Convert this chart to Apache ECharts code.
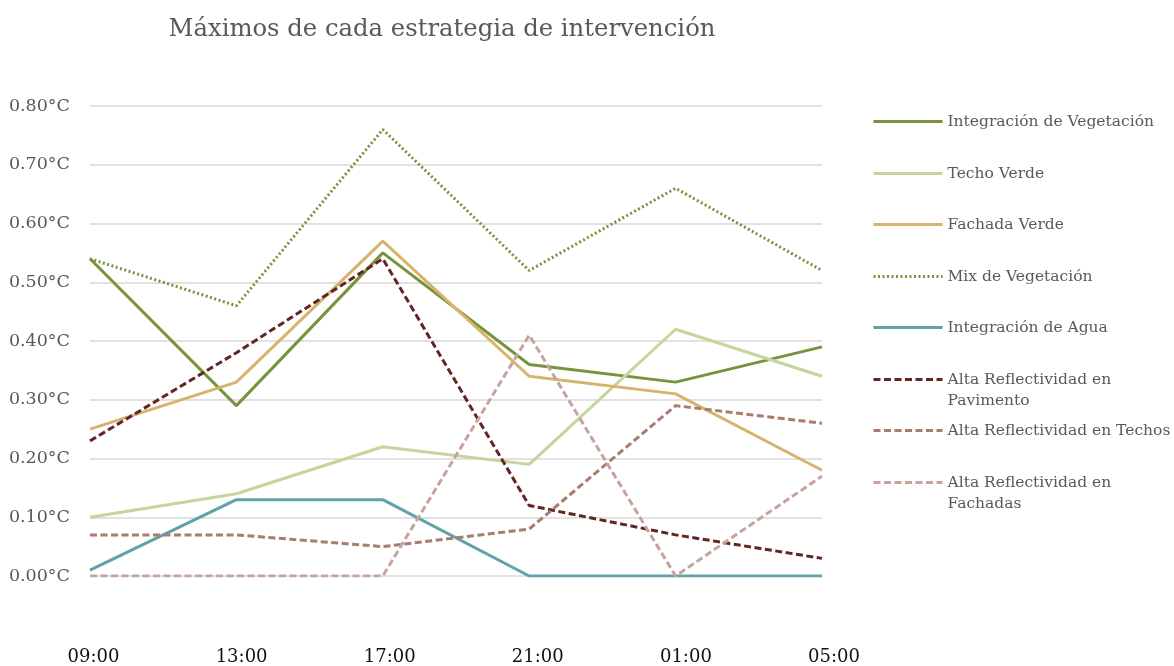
<!DOCTYPE html>
<html>
<head>
<meta charset="utf-8">
<script src="https://cdn.jsdelivr.net/npm/echarts@6/dist/echarts.min.js"></script>
<style>
  html, body { margin: 0; padding: 0; background: #fff; }
  #chart { width: 1174px; height: 666px; }
</style>
</head>
<body>
<div id="chart"></div>
<script>
// Time of day for each measurement
const hours = ['09:00', '13:00', '17:00', '21:00', '01:00', '05:00'];

// Peak temperature reduction (°C) per intervention strategy
const integracionVegetacion = [0.54, 0.29, 0.55, 0.36, 0.33, 0.39];
const techoVerde = [0.10, 0.14, 0.22, 0.19, 0.42, 0.34];
const fachadaVerde = [0.25, 0.33, 0.57, 0.34, 0.31, 0.18];
const mixVegetacion = [0.54, 0.46, 0.76, 0.52, 0.66, 0.52];
const integracionAgua = [0.01, 0.13, 0.13, 0.00, 0.00, 0.00];
const reflectPavimento = [0.23, 0.38, 0.54, 0.12, 0.07, 0.03];
const reflectTechos = [0.07, 0.07, 0.05, 0.08, 0.29, 0.26];
const reflectFachadas = [0.00, 0.00, 0.00, 0.41, 0.00, 0.17];

const FONT = 'DejaVu Serif';
const TEXT = '#595959';

const seriesDefs = [
  { name: 'Integración de Vegetación', data: integracionVegetacion, color: '#77933C', type: 'solid' },
  { name: 'Techo Verde', data: techoVerde, color: '#C3D69B', type: 'solid' },
  { name: 'Fachada Verde', data: fachadaVerde, color: '#D6B46E', type: 'solid' },
  { name: 'Mix de Vegetación', data: mixVegetacion, color: '#77933C', type: [2, 2.5] },
  { name: 'Integración de Agua', data: integracionAgua, color: '#5FA3A9', type: 'solid' },
  { name: 'Alta Reflectividad en Pavimento', data: reflectPavimento, color: '#632523', type: [7, 3.5] },
  { name: 'Alta Reflectividad en Techos', data: reflectTechos, color: '#A67D6E', type: [7, 3.5] },
  { name: 'Alta Reflectividad en Fachadas', data: reflectFachadas, color: '#C6A49D', type: [7, 3.5] }
];

// Legend rows: vertical centre of each icon, and wrapped label text
const legendRows = [
  { y: 121, label: 'Integración de Vegetación' },
  { y: 173, label: 'Techo Verde' },
  { y: 224, label: 'Fachada Verde' },
  { y: 276, label: 'Mix de Vegetación' },
  { y: 327, label: 'Integración de Agua' },
  { y: 379, label: '\nAlta Reflectividad en\nPavimento' },
  { y: 430, label: 'Alta Reflectividad en Techos' },
  { y: 482, label: '\nAlta Reflectividad en\nFachadas' }
];
const LH = 21;

const legends = seriesDefs.map((s, i) => {
  const row = legendRows[i];
  const lines = row.label.split('\n').length;
  return {
    left: 872,
    top: Math.round(row.y - (lines * LH) / 2),
    orient: 'vertical',
    itemWidth: 69,
    itemHeight: 14,
    itemGap: 0,
    padding: 0,
    data: [s.name],
    formatter: () => row.label,
    itemStyle: { opacity: 0 },
    lineStyle: { width: 3 },
    textStyle: { fontFamily: FONT, fontSize: 15.5, color: TEXT, lineHeight: LH }
  };
});

const chart = echarts.init(document.getElementById('chart'), null, { renderer: 'canvas' });

chart.setOption({
  backgroundColor: '#ffffff',
  animation: false,
  title: {
    text: 'Máximos de cada estrategia de intervención',
    left: 437,
    textAlign: 'center',
    top: 13,
    textStyle: { fontFamily: FONT, fontSize: 24.3, fontWeight: 'normal', color: TEXT }
  },
  legend: legends,
  grid: [
    { left: 90, right: 352, top: 106, bottom: 90, containLabel: false },
    // label band for the hour captions, spaced slightly wider than the plot
    { left: 93.5, right: 340, top: 106, bottom: 90, containLabel: false }
  ],
  xAxis: [
    {
      type: 'category',
      gridIndex: 0,
      data: hours,
      boundaryGap: false,
      axisLine: { show: false },
      axisTick: { show: false },
      splitLine: { show: false },
      axisLabel: { show: false }
    },
    {
      type: 'category',
      gridIndex: 1,
      data: hours,
      boundaryGap: false,
      axisLine: { show: false },
      axisTick: { show: false },
      splitLine: { show: false },
      axisLabel: { margin: 72, fontFamily: FONT, fontSize: 18, color: '#111' }
    }
  ],
  yAxis: [
    {
      type: 'value',
      gridIndex: 0,
      min: 0,
      max: 0.8,
      interval: 0.1,
      axisLine: { show: false },
      axisTick: { show: false },
      splitLine: { lineStyle: { color: '#D9D9D9', width: 1.5 } },
      axisLabel: {
        margin: 20,
        fontFamily: FONT,
        fontSize: 17.5,
        color: TEXT,
        formatter: v => v.toFixed(2) + '°C'
      }
    },
    {
      type: 'value',
      gridIndex: 1,
      min: 0,
      max: 0.8,
      show: false
    }
  ],
  series: seriesDefs.map(s => ({
    name: s.name,
    type: 'line',
    xAxisIndex: 0,
    yAxisIndex: 0,
    data: s.data,
    showSymbol: false,
    symbol: 'none',
    itemStyle: { color: s.color },
    lineStyle: { color: s.color, width: 3, type: s.type, cap: 'butt' }
  }))
});
</script>
</body>
</html>
